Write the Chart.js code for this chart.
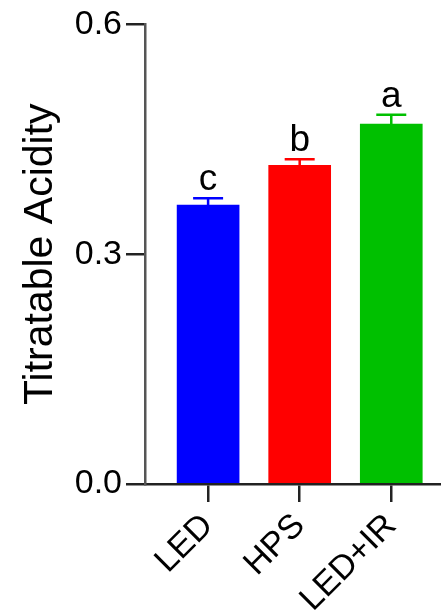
<!DOCTYPE html>
<html>
<head>
<meta charset="utf-8">
<script src="https://cdn.jsdelivr.net/npm/chart.js@4/dist/chart.umd.min.js"></script>
<style>
  html, body { margin: 0; padding: 0; background: #fff; }
  canvas { display: block; }
</style>
</head>
<body>
<canvas id="grafico" width="441" height="614"></canvas>
<script>
// datos
const categorias = ['LED', 'HPS', 'LED+IR'];
const medias = [0.364, 0.416, 0.470];
const errores = [0.009, 0.008, 0.012];
const letras = ['c', 'b', 'a'];
const ticksY = [0, 0.3, 0.6];
const colores = ['#0000ff', '#ff0000', '#00c000'];

const FUENTE = 'Arial, "Liberation Sans", sans-serif';

// barras de error + letras de significancia
const erroresPlugin = {
  id: 'erroresPlugin',
  afterDatasetsDraw(chart) {
    const ctx = chart.ctx;
    const x = chart.scales.x, y = chart.scales.y;
    ctx.save();
    medias.forEach((m, i) => {
      const px = x.getPixelForValue(i);
      const pTop = y.getPixelForValue(m + errores[i]);
      const pBar = y.getPixelForValue(m);
      ctx.strokeStyle = colores[i];
      ctx.lineWidth = 2.5;
      ctx.beginPath();
      ctx.moveTo(px, pBar);
      ctx.lineTo(px, pTop);
      ctx.moveTo(px - 15, pTop);
      ctx.lineTo(px + 15, pTop);
      ctx.stroke();
      ctx.fillStyle = '#000';
      ctx.font = '37px ' + FUENTE;
      ctx.textAlign = 'center';
      ctx.textBaseline = 'alphabetic';
      ctx.fillText(letras[i], px, pTop - 8);
    });
    ctx.restore();
  }
};

new Chart(document.getElementById('grafico'), {
  type: 'bar',
  data: {
    datasets: [{
      data: medias.map((v, i) => ({x: i, y: v})),
      backgroundColor: colores,
      borderWidth: 0,
      barThickness: 62
    }]
  },
  options: {
    responsive: false,
    animation: false,
    layout: {padding: {top: 23, right: 0, left: 0, bottom: 0}},
    plugins: {legend: {display: false}, tooltip: {enabled: false}},
    scales: {
      x: {
        type: 'linear',
        offset: false,
        min: -0.689,
        max: 2.543,
        afterBuildTicks: s => { s.ticks = categorias.map((c, i) => ({value: i})); },
        afterFit: s => { s.height = 130; },
        border: {display: true, color: '#222', width: 2.5},
        grid: {display: true, offset: false, drawOnChartArea: false, drawTicks: true, tickLength: 18, color: '#222', lineWidth: 2.5},
        ticks: {
          autoSkip: false,
          maxRotation: 45,
          minRotation: 45,
          padding: 4,
          color: '#000',
          font: {family: FUENTE, size: 34},
          callback: v => categorias[v]
        }
      },
      y: {
        min: 0,
        max: 0.6,
        afterBuildTicks: s => { s.ticks = ticksY.map(v => ({value: v})); },
        afterFit: s => { s.width = 145; },
        border: {display: true, color: '#555', width: 2.5},
        grid: {display: true, drawOnChartArea: false, drawTicks: true, tickLength: 19, color: '#222', lineWidth: 2.5},
        ticks: {
          padding: 4,
          color: '#000',
          font: {family: FUENTE, size: 34},
          callback: v => v.toFixed(1)
        },
        title: {
          display: true,
          text: 'Titratable Acidity',
          color: '#000',
          font: {family: FUENTE, size: 41},
          padding: {top: 16, bottom: 0}
        }
      }
    }
  },
  plugins: [erroresPlugin]
});
</script>
</body>
</html>
